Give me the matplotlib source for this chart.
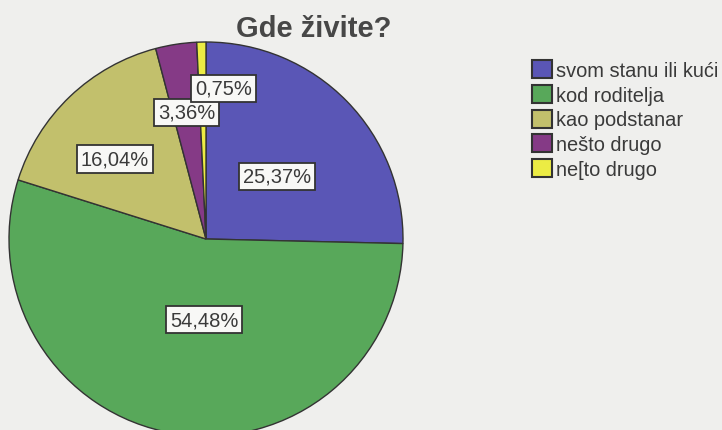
import matplotlib.pyplot as plt
import numpy as np

plt.rcParams['font.family'] = ['Liberation Sans', 'DejaVu Sans']

title = "Gde živite?"
categories = ["svom stanu ili kući", "kod roditelja", "kao podstanar", "nešto drugo", "ne[to drugo"]
percents = [25.37, 54.48, 16.04, 3.36, 0.75]
colors = ["#5a56b6", "#58a85a", "#c2c06c", "#853a86", "#ecec44"]

# label placement (radius fraction, angle nudge in degrees) per slice
label_r = [0.48, 0.41, 0.615, 0.65, 0.77]
label_da = [-2.7, 8, 5, 0, -8]

fig = plt.figure(figsize=(7.22, 4.31), dpi=100)
fig.patch.set_facecolor('#efefed')

W, H = 722, 431
cx, cy, r = 206, 240, 197
ax = fig.add_axes([(cx - r) / W, (H - cy - r) / H, 2 * r / W, 2 * r / H])
ax.set_facecolor('none')

wedges, _ = ax.pie(percents, colors=colors, startangle=90, counterclock=False,
                   radius=1, wedgeprops=dict(edgecolor='#333333', linewidth=1.0))
ax.set_xlim(-1, 1)
ax.set_ylim(-1, 1)
ax.set_aspect('equal')
ax.axis('off')

for w, p, lr, da in zip(wedges, percents, label_r, label_da):
    mid = np.deg2rad((w.theta1 + w.theta2) / 2 + da)
    ax.text(lr * np.cos(mid), lr * np.sin(mid), f"{p:.2f}%".replace('.', ','),
            ha='center', va='center', fontsize=14.5, color='#3a3a3a',
            bbox=dict(boxstyle='square,pad=0.2', fc='#f8f8f6', ec='#333333', lw=1.3))

fig.text(314 / W, 1 - 29 / H, title, ha='center', va='center',
         fontsize=21, fontweight='bold', color='#474747')

handles = [plt.Rectangle((0, 0), 1, 1, fc=c, ec='#333333', lw=1.5) for c in colors]
leg = fig.legend(handles, categories, loc='upper left', bbox_to_anchor=(532 / W, 1 - 61 / H),
                 frameon=False, fontsize=14.4, handlelength=1.0, handleheight=1.0,
                 handletextpad=0.2, labelspacing=0.25, borderaxespad=0, borderpad=0)
for t in leg.get_texts():
    t.set_color('#3a3a3a')

fig.savefig('out.png', dpi=100, facecolor=fig.get_facecolor())
